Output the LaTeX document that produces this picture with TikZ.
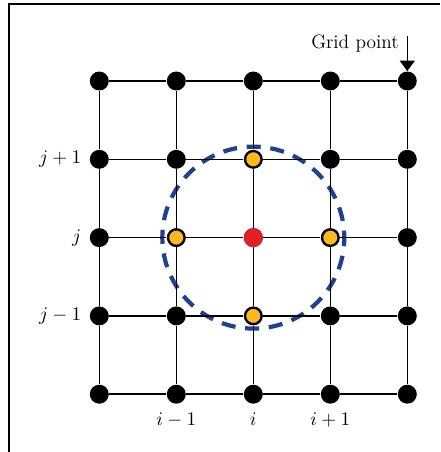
\documentclass[tikz,border=0pt]{standalone}
\usetikzlibrary{positioning,arrows.meta}
\definecolor{ringblue}{RGB}{31,64,153}
\definecolor{nbyellow}{RGB}{252,186,24}
\definecolor{ctred}{RGB}{232,30,37}
\tikzset{
  dot/.style={circle,fill=black,inner sep=0pt,minimum size=10.8pt},
  nbr/.style={circle,draw=black,line width=1.1pt,fill=nbyellow,inner sep=0pt,minimum size=9.2pt},
  centre/.style={circle,fill=ctred,inner sep=0pt,minimum size=10.8pt},
  gridline/.style={line width=0.85pt},
  idx/.style={inner sep=0pt},
  ring/.style={draw=ringblue,line width=2.4pt,dash pattern=on 8pt off 5.52pt,dash phase=4pt}
}
\begin{document}
\begin{tikzpicture}
		[x=0.02cm, y=-0.02cm, font=\fontsize{11}{13}\selectfont]
		\useasboundingbox (0,0) rectangle (440,452);
		\draw[line width=1.1pt] (9,452) -- (9,4) -- (440,4);
		% stencil ring, drawn first so the points lie on top
		\coordinate (ctr) at (253.3,237.6);
		\draw[ring] (ctr) circle (1.82cm);
		% grid points
		\foreach \i in {0,...,4}
			\foreach \j in {0,...,4}
				\node[dot] (n\i\j) at ({99.3+77*\i},{81+78.3*\j}) {};
		\node[centre] (c) at (n22) {};
		\node[nbr] (w) at (n12) {};
		\node[nbr] (e) at (n32) {};
		\node[nbr] (nn) at (n21) {};
		\node[nbr] (s) at (n23) {};
		% grid lines
		\foreach \i in {0,...,4}
			\foreach \a/\b in {0/1,1/2,2/3,3/4} {
				\draw[gridline] (n\i\a) -- (n\i\b);
				\draw[gridline] (n\a\i) -- (n\b\i);
			}
		\node[idx, left=4.5pt of n01] (j1) {$j+1$};
		\node[idx, left=4.5pt of n02] (j0) {$j$};
		\node[idx, left=4.5pt of n03] (jm) {$j-1$};
		\node[idx, below=5pt of n14] (im) {$i-1$};
		\node[idx, below=5pt of n24] (i0) {$i$};
		\node[idx, below=5pt of n34] (i1) {$i+1$};
		\coordinate (gpa) at (407.3,36);
		\node[idx, anchor=east] (gp) at (399,44) {Grid point};
		\draw[gridline, -{Triangle[width=8.5pt,length=6pt]}] (gpa) -- (n40);
	\end{tikzpicture}
\end{document}
